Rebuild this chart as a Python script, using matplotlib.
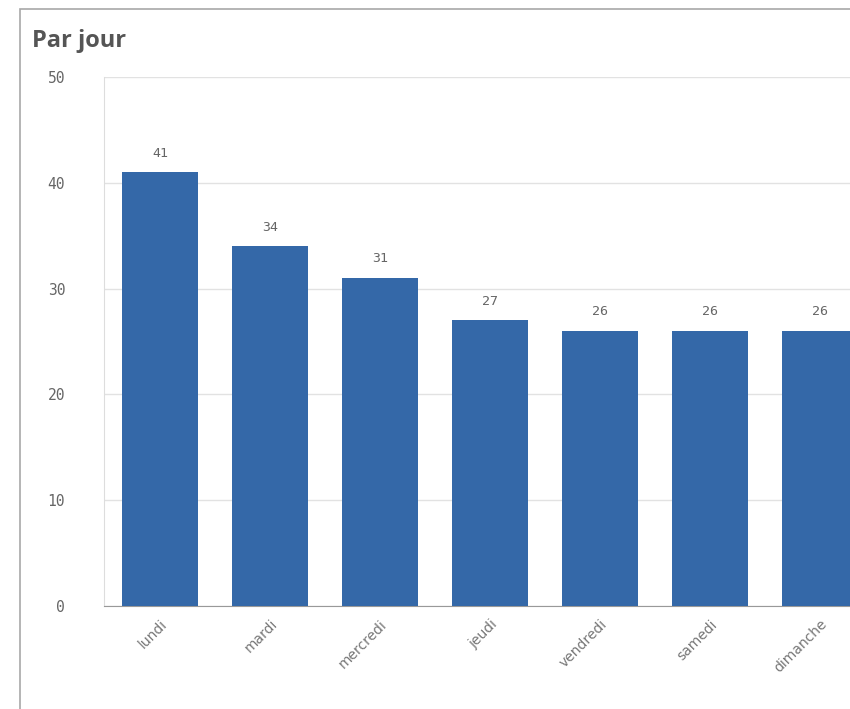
import matplotlib
matplotlib.use("Agg")
import matplotlib.pyplot as plt
from matplotlib.patches import Rectangle

days = ["lundi", "mardi", "mercredi", "jeudi", "vendredi", "samedi", "dimanche"]
counts = [41, 34, 31, 27, 26, 26, 26]
yticks = [0, 10, 20, 30, 40, 50]

BAR_COLOR = "#3468a8"
TEXT_COLOR = "#666666"
MONO = "DejaVu Sans Mono"

fig = plt.figure(figsize=(8.5, 7.09), dpi=100)
fig.patch.set_facecolor("white")

# panel frame, open on the right and bottom
fig.patches.append(Rectangle((20 / 850, -0.1), 1.2, 1 - 9 / 709 + 0.1,
                             transform=fig.transFigure, fill=False,
                             edgecolor="#a8a8a8", linewidth=1.2))
fig.text(32 / 850, 1 - 41 / 709, "Par jour", fontsize=17, fontweight="bold",
         color="#555555", family="Open Sans", va="center", ha="left")

ax = fig.add_axes([104 / 850, 1 - 606 / 709, 1 - 104 / 850, (606 - 77) / 709])
x = range(len(days))
bars = ax.bar(x, counts, width=0.69, color=BAR_COLOR, zorder=3)
for rect, v in zip(bars, counts):
    ax.text(rect.get_x() + rect.get_width() / 2, v + 1.2, str(v),
            ha="center", va="bottom", fontsize=9.5, color=TEXT_COLOR,
            family=MONO, zorder=4)

ax.set_xlim(-0.51, 6.27)
ax.set_ylim(0, 50)
ax.set_yticks(yticks)
ax.set_yticklabels([str(t) for t in yticks], family=MONO, fontsize=10.5,
                   color=TEXT_COLOR)
ax.tick_params(axis="y", length=0, pad=28)
ax.set_xticks(list(x))
ax.set_xticklabels(days, rotation=45, ha="right", rotation_mode="anchor",
                   fontsize=10, color="#777777")
ax.tick_params(axis="x", length=0, pad=8)

ax.grid(axis="y", color="#e2e2e2", linewidth=1, zorder=0)
for side in ["top", "right"]:
    ax.spines[side].set_visible(False)
ax.spines["left"].set_color("#dddddd")
ax.spines["bottom"].set_color("#999999")

fig.savefig("out.png", dpi=100)
